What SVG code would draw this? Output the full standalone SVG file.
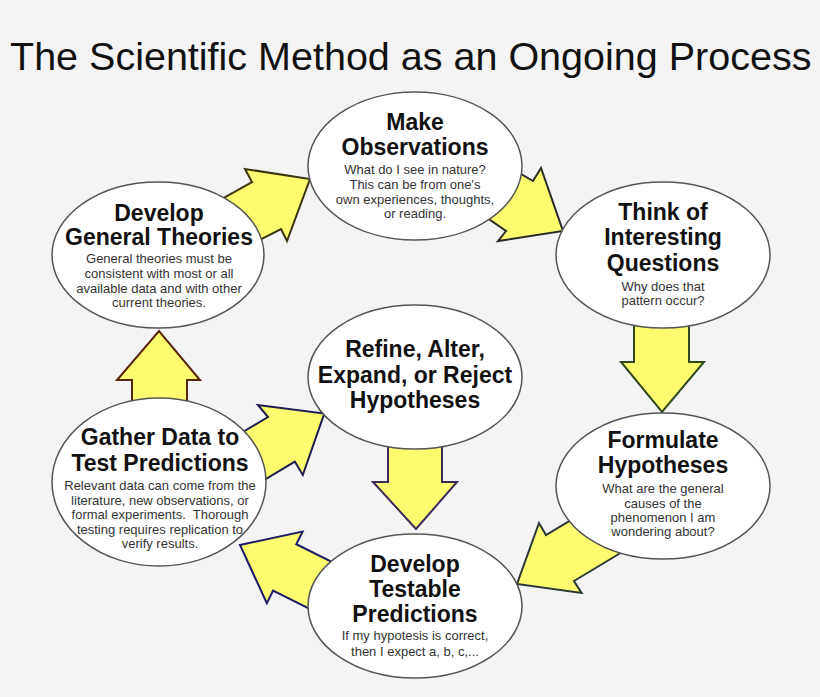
<svg xmlns="http://www.w3.org/2000/svg" width="820" height="697" viewBox="0 0 820 697">
<style>
.bg{fill:#f4f4f4}
.title{font-family:"Liberation Sans",Arial,sans-serif;font-size:39.5px;fill:#111}
.node ellipse{fill:#ffffff;stroke:#555;stroke-width:1.5}
.h{font-family:"Liberation Sans",Arial,sans-serif;font-size:23px;font-weight:bold;fill:#111;text-anchor:middle}
.s{font-family:"Liberation Sans",Arial,sans-serif;font-size:13px;fill:#333;text-anchor:middle}
.arrow{fill:#fcfc6e;stroke-width:2;stroke-linejoin:miter}
</style>
<rect class="bg" x="0" y="0" width="820" height="697"/>
<text class="title" x="10" y="70">The Scientific Method as an Ongoing Process</text>

<g id="connectors">
  <polygon id="a-theories-observations" class="arrow" stroke="#3a3410" points="207.6,206.8 252,182 245,169 310,179 287,241 281,229 244.6,247.8"/>
  <polygon id="a-observations-questions" class="arrow" stroke="#2a2a2a" points="505,164.6 533,181 541,168 563,231 498,241 506,231 475,209.6"/>
  <polygon id="a-questions-formulate" class="arrow" stroke="#2f4a1e" points="634,320 689,320 689,362 704,362 662,412 621,362 634,362"/>
  <polygon id="a-formulate-testable" class="arrow" stroke="#2a3838" points="597.5,504 546,535 539,523 517,584 581.6,593 574,581 625.5,550"/>
  <polygon id="a-refine-testable" class="arrow" stroke="#3c2a5a" points="388,440 442,440 442,482 457,482 416,529 373,482 388,482"/>
  <polygon id="a-testable-gather" class="arrow" stroke="#1c1c66" points="358.9,575.4 296.3,544.2 302.6,531.6 240,545 266.8,603.2 273.1,590.6 335.7,621.8"/>
  <polygon id="a-gather-refine" class="arrow" stroke="#1c1c50" points="208,453 268,417 258,405 324.3,413.6 302.8,475 294.8,461.6 234.8,497.6"/>
  <polygon id="a-gather-theories" class="arrow" stroke="#5a2408" points="132,415 132,380 117,380 159,331 200,380 187,380 187,415"/>
</g>

<g id="node-observations" class="node">
  <ellipse cx="415" cy="166" rx="107" ry="74"/>
  <text class="h" x="415" y="130">Make</text>
  <text class="h" x="415" y="155">Observations</text>
  <text class="s" x="415" y="174">What do I see in nature?</text>
  <text class="s" x="415" y="189">This can be from one's</text>
  <text class="s" x="415" y="204">own experiences, thoughts,</text>
  <text class="s" x="415" y="218">or reading.</text>
</g>

<g id="node-theories" class="node">
  <ellipse cx="158" cy="255" rx="106" ry="73"/>
  <text class="h" x="159" y="221">Develop</text>
  <text class="h" x="159" y="245">General Theories</text>
  <text class="s" x="159" y="263">General theories must be</text>
  <text class="s" x="159" y="278">consistent with most or all</text>
  <text class="s" x="159" y="293">available data and with other</text>
  <text class="s" x="159" y="307">current theories.</text>
</g>

<g id="node-questions" class="node">
  <ellipse cx="663" cy="255" rx="107" ry="73"/>
  <text class="h" x="663" y="220">Think of</text>
  <text class="h" x="663" y="245">Interesting</text>
  <text class="h" x="663" y="271">Questions</text>
  <text class="s" x="663" y="291">Why does that</text>
  <text class="s" x="663" y="305">pattern occur?</text>
</g>

<g id="node-formulate" class="node">
  <ellipse cx="663" cy="486" rx="107" ry="73"/>
  <text class="h" x="663" y="448">Formulate</text>
  <text class="h" x="663" y="473">Hypotheses</text>
  <text class="s" x="663" y="493">What are the general</text>
  <text class="s" x="663" y="508">causes of the</text>
  <text class="s" x="663" y="522">phenomenon I am</text>
  <text class="s" x="663" y="536">wondering about?</text>
</g>

<g id="node-refine" class="node">
  <ellipse cx="415" cy="377" rx="107" ry="72"/>
  <text class="h" x="415" y="357">Refine, Alter,</text>
  <text class="h" x="415" y="383">Expand, or Reject</text>
  <text class="h" x="415" y="408">Hypotheses</text>
</g>

<g id="node-gather" class="node">
  <ellipse cx="159" cy="482" rx="107" ry="84"/>
  <text class="h" x="160" y="445">Gather Data to</text>
  <text class="h" x="160" y="471">Test Predictions</text>
  <text class="s" x="160" y="490">Relevant data can come from the</text>
  <text class="s" x="160" y="505">literature, new observations, or</text>
  <text class="s" x="160" y="519" xml:space="preserve">formal experiments.  Thorough</text>
  <text class="s" x="160" y="534">testing requires replication to</text>
  <text class="s" x="160" y="548">verify results.</text>
</g>

<g id="node-testable" class="node">
  <ellipse cx="415" cy="606" rx="107" ry="72"/>
  <text class="h" x="415" y="572">Develop</text>
  <text class="h" x="415" y="597">Testable</text>
  <text class="h" x="415" y="622">Predictions</text>
  <text class="s" x="415" y="640">If my hypotesis is correct,</text>
  <text class="s" x="415" y="656">then I expect a, b, c,...</text>
</g>
</svg>
